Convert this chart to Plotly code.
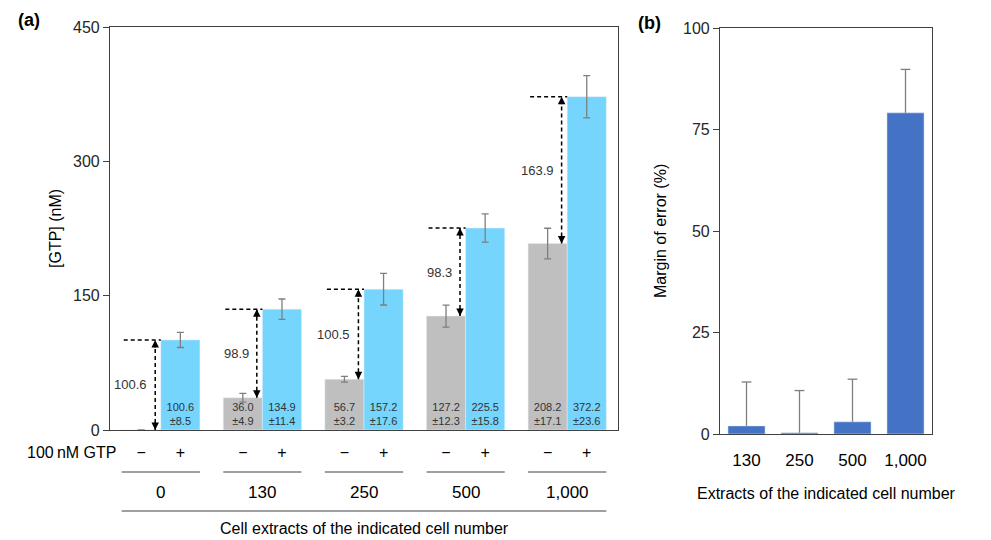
import plotly.graph_objects as go

# ---------------- data ----------------
cell_groups = ["0", "130", "250", "500", "1,000"]
gtp_minus = [0.0, 36.0, 56.7, 127.2, 208.2]
gtp_minus_err = [0.0, 4.9, 3.2, 12.3, 17.1]
gtp_plus = [100.6, 134.9, 157.2, 225.5, 372.2]
gtp_plus_err = [8.5, 11.4, 17.6, 15.8, 23.6]
diff_labels = ["100.6", "98.9", "100.5", "98.3", "163.9"]
sign_labels = ["\u2212", "+"]

moe_cells = ["130", "250", "500", "1,000"]
moe_values = [2.0, 0.3, 3.0, 79.1]
moe_err = [10.8, 10.4, 10.5, 10.7]

yticks_a = [0, 150, 300, 450]
yticks_b = [0, 25, 50, 75, 100]

# ---------------- style ----------------
PAGE_OFF = 8                 # default body margin of the html page
W, H = 991 - PAGE_OFF, 540 - PAGE_OFF
FONT = "Liberation Sans, Arial, sans-serif"
GRAY = "#BFBFBF"
BLUE = "#75D5FD"
DBLUE = "#4472C4"
ERR = "#7F7F7F"
AX = "#404040"
TXT = "#262626"
BW = 0.385          # bar width in panel (a), category units
ARX = -0.055        # arrow offset from group centre

def px_x(p):
    return (p - PAGE_OFF) / W

def px_y(p):
    return 1 - (p - PAGE_OFF) / H

idx = list(range(len(cell_groups)))

fig = go.Figure()

fig.add_trace(go.Bar(
    x=idx, y=gtp_minus, width=BW, offset=-BW, marker_color=GRAY,
    error_y=dict(type="data", array=[e if e > 0 else None for e in gtp_minus_err],
                 color=ERR, thickness=1.3, width=3.5),
    text=[(f"{v:.1f}<br>\u00b1{e:.1f}" if v > 0 else "") for v, e in zip(gtp_minus, gtp_minus_err)],
    textposition="inside", insidetextanchor="start", constraintext="none", textangle=0,
    textfont=dict(size=11, color="#333333", family=FONT),
    xaxis="x", yaxis="y", showlegend=False, hoverinfo="skip",
))
fig.add_trace(go.Bar(
    x=idx, y=gtp_plus, width=BW, offset=0, marker_color=BLUE,
    error_y=dict(type="data", array=gtp_plus_err, color=ERR, thickness=1.3, width=3.5),
    text=[f"{v:.1f}<br>\u00b1{e:.1f}" for v, e in zip(gtp_plus, gtp_plus_err)],
    textposition="inside", insidetextanchor="start", constraintext="none", textangle=0,
    textfont=dict(size=11, color="#333333", family=FONT),
    xaxis="x", yaxis="y", showlegend=False, hoverinfo="skip",
))

# panel (b)
fig.add_trace(go.Bar(
    x=moe_cells, y=moe_values, width=0.7, marker_color=DBLUE,
    error_y=dict(type="data", symmetric=False, array=moe_err, arrayminus=[0] * len(moe_err),
                 color=ERR, thickness=1.3, width=0),
    xaxis="x2", yaxis="y2", showlegend=False, hoverinfo="skip",
))
fig.add_trace(go.Scatter(
    x=moe_cells, y=[v + e for v, e in zip(moe_values, moe_err)], mode="markers",
    marker=dict(symbol="line-ew", size=7, line=dict(width=1.3, color=ERR)),
    xaxis="x2", yaxis="y2", showlegend=False, hoverinfo="skip",
))

shapes = []
annotations = []


def paper_text(x, y, text, size=16, angle=0, yanchor="middle"):
    annotations.append(dict(x=px_x(x), y=px_y(y), xref="paper", yref="paper",
                            xanchor="center", yanchor=yanchor, textangle=angle,
                            text=text, showarrow=False,
                            font=dict(size=size, color="black", family=FONT)))


for i in idx:
    lo, hi = gtp_minus[i], gtp_plus[i]
    # vertical dashed line
    shapes.append(dict(type="line", xref="x", yref="y", x0=i + ARX, x1=i + ARX, y0=lo, y1=hi,
                       line=dict(color="black", width=1.5, dash="4px,3px")))
    # horizontal dashed line
    shapes.append(dict(type="line", xref="x", yref="y", x0=i - BW + 0.02, x1=i, y0=hi, y1=hi,
                       line=dict(color="black", width=1.5, dash="4px,3px")))
    # arrow heads
    annotations.append(dict(x=i + ARX, y=hi, xref="x", yref="y", ax=0, ay=9, text="",
                            showarrow=True, arrowhead=2, arrowsize=1, arrowwidth=1.5,
                            arrowcolor="black", standoff=0))
    annotations.append(dict(x=i + ARX, y=lo, xref="x", yref="y", ax=0, ay=-9, text="",
                            showarrow=True, arrowhead=2, arrowsize=1, arrowwidth=1.5,
                            arrowcolor="black", standoff=0))
    annotations.append(dict(x=i + ARX, y=(lo + hi) / 2, xref="x", yref="y", text=diff_labels[i],
                            showarrow=False, xanchor="right", yanchor="middle", xshift=-6,
                            font=dict(size=13, color="#333333", family=FONT)))
    # group line and label under the axis
    shapes.append(dict(type="line", xref="x", yref="paper", x0=i - BW, x1=i + BW,
                       y0=px_y(472), y1=px_y(472), line=dict(color=AX, width=1)))
    annotations.append(dict(x=i, y=px_y(492), xref="x", yref="paper", text=cell_groups[i],
                            xanchor="center", yanchor="middle",
                            showarrow=False, font=dict(size=17, color="black", family=FONT)))

shapes.append(dict(type="line", xref="x", yref="paper", x0=-BW, x1=len(idx) - 1 + BW,
                   y0=px_y(511), y1=px_y(511), line=dict(color=AX, width=1)))
annotations.append(dict(x=(len(idx) - 1) / 2, y=px_y(528), xref="x", yref="paper",
                        xanchor="center", yanchor="middle",
                        text="Cell extracts of the indicated cell number", showarrow=False,
                        font=dict(size=16, color="black", family=FONT)))
annotations.append(dict(x=px_x(118), y=px_y(452), xref="paper", yref="paper",
                        xanchor="right", yanchor="middle",
                        text="100\u2009nM GTP", showarrow=False,
                        font=dict(size=16, color="black", family=FONT)))
paper_text(55, 229, "[GTP] (nM)", angle=-90)
paper_text(660, 231, "Margin of error (%)", angle=-90)
paper_text(826, 493, "Extracts of the indicated cell number")
paper_text(29, 8, "<b>(a)</b>", size=18, yanchor="top")
paper_text(649, 11, "<b>(b)</b>", size=18, yanchor="top")

tickpos = []
ticktxt = []
for i in idx:
    tickpos += [i - BW / 2, i + BW / 2]
    ticktxt += sign_labels

fig.update_layout(
    width=W, height=H,
    margin=dict(l=0, r=0, t=0, b=0, autoexpand=False),
    paper_bgcolor="white", plot_bgcolor="white",
    font=dict(family=FONT, color=TXT, size=16),
    barmode="overlay",
    xaxis=dict(domain=[px_x(110), px_x(618)], range=[-0.5, len(idx) - 0.5],
               tickvals=tickpos, ticktext=ticktxt, ticks="", ticklabelstandoff=8,
               tickfont=dict(size=16, color="black"), automargin=False,
               showline=True, mirror=True, linecolor=AX, linewidth=1.2,
               showgrid=False, zeroline=False, anchor="y"),
    yaxis=dict(domain=[px_y(430), px_y(27)], range=[0, 450], tickvals=yticks_a,
               ticks="outside", ticklen=6, tickcolor=AX, tickfont=dict(size=16, color=TXT),
               showline=True, mirror=True, linecolor=AX, linewidth=1.2, automargin=False,
               showgrid=False, zeroline=False, anchor="x"),
    xaxis2=dict(domain=[px_x(720), px_x(932)], type="category",
                ticks="", ticklabelstandoff=10, tickfont=dict(size=17, color="black"),
                showline=True, mirror=True, linecolor=AX, linewidth=1.2, automargin=False,
                showgrid=False, zeroline=False, anchor="y2"),
    yaxis2=dict(domain=[px_y(434), px_y(28)], range=[0, 100], tickvals=yticks_b,
                ticks="outside", ticklen=6, tickcolor=AX, tickfont=dict(size=16, color=TXT),
                showline=True, mirror=True, linecolor=AX, linewidth=1.2, automargin=False,
                showgrid=False, zeroline=False, anchor="x2"),
    shapes=shapes,
    annotations=annotations,
)

fig.write_html("out.html")
